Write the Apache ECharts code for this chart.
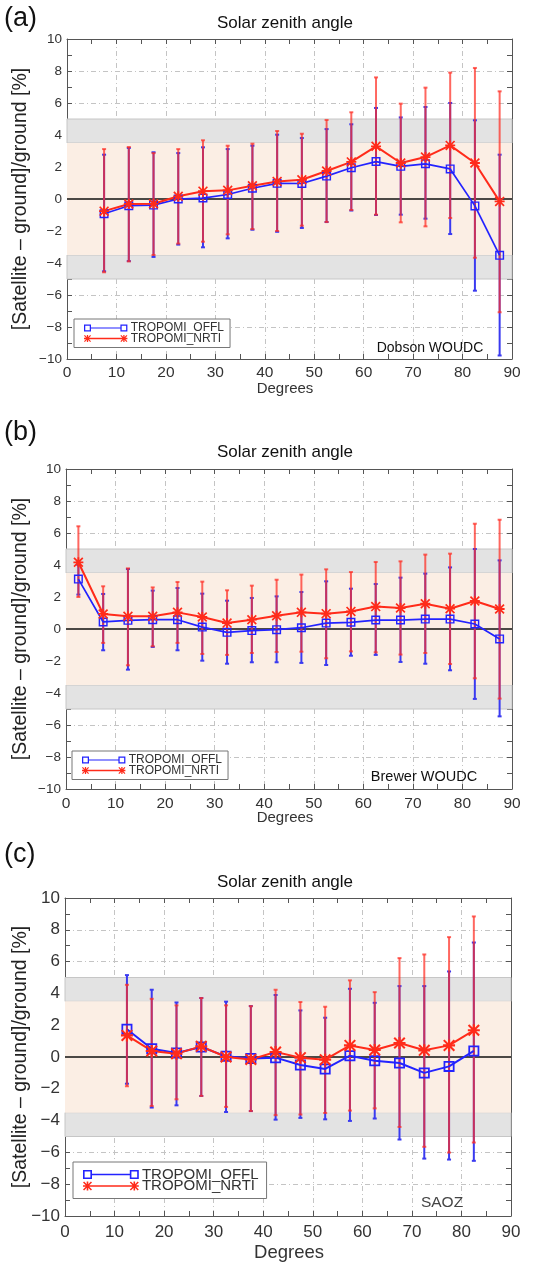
<!DOCTYPE html>
<html>
<head>
<meta charset="utf-8">
<script src="https://cdn.jsdelivr.net/npm/echarts@6/dist/echarts.min.js"></script>
<style>
  html, body { margin: 0; padding: 0; background: #fff; }
  #chart { width: 541px; height: 1263px; }
</style>
</head>
<body>
<div id="chart"></div>
<script>
// ---- data ----
// (a) Dobson WOUDC
var X_A = [7.5,12.5,17.5,22.5,27.5,32.5,37.5,42.5,47.5,52.5,57.5,62.5,67.5,72.5,77.5,82.5,87.5];
var OFFL_A    = [-0.92,-0.42,-0.38,0.0,0.06,0.28,0.67,0.98,0.97,1.43,1.95,2.34,2.04,2.2,1.88,-0.43,-3.52];
var NRTI_A    = [-0.76,-0.31,-0.3,0.17,0.49,0.54,0.83,1.1,1.2,1.75,2.32,3.29,2.25,2.62,3.35,2.25,-0.15];
var OFFL_A_LO = [-4.52,-3.88,-3.62,-2.85,-3.02,-2.46,-1.92,-2.05,-1.81,-1.44,-0.72,-1.0,-0.98,-1.23,-2.19,-5.73,-9.78];
var OFFL_A_HI = [2.77,3.19,2.92,2.87,3.23,3.12,3.33,4.02,3.81,4.37,4.67,5.69,5.1,5.75,6.0,4.92,2.77];
var NRTI_A_LO = [-4.58,-3.9,-3.5,-2.79,-2.67,-2.21,-1.88,-2.0,-1.67,-1.44,-0.69,-0.98,-1.46,-1.71,-1.19,-3.67,-7.08];
var NRTI_A_HI = [3.12,3.25,2.87,3.12,3.67,3.33,3.46,4.25,4.08,4.94,5.42,7.6,5.96,6.96,7.9,8.19,6.73];

// (b) Brewer WOUDC
var X_B = [2.5,7.5,12.5,17.5,22.5,27.5,32.5,37.5,42.5,47.5,52.5,57.5,62.5,67.5,72.5,77.5,82.5,87.5];
var OFFL_B    = [3.12,0.44,0.54,0.58,0.58,0.12,-0.21,-0.1,-0.04,0.08,0.37,0.42,0.56,0.56,0.62,0.62,0.31,-0.62];
var NRTI_B    = [4.17,0.94,0.79,0.79,1.04,0.75,0.37,0.58,0.83,1.04,0.96,1.1,1.4,1.31,1.58,1.27,1.75,1.25];
var OFFL_B_LO = [2.15,-1.33,-2.54,-1.12,-1.33,-1.98,-2.17,-2.08,-2.08,-2.12,-2.25,-1.67,-1.62,-2.06,-2.17,-2.58,-4.37,-5.46];
var OFFL_B_HI = [4.0,2.19,3.75,2.4,2.56,2.21,1.77,1.94,2.04,2.31,2.98,2.52,2.81,3.21,3.46,3.85,5.0,4.29];
var NRTI_B_LO = [2.0,-0.87,-2.27,-1.08,-0.87,-1.56,-1.62,-1.5,-1.44,-1.42,-1.83,-1.4,-1.46,-1.6,-1.5,-2.19,-3.08,-4.35];
var NRTI_B_HI = [6.42,2.67,3.79,2.6,2.94,2.96,2.42,2.71,3.08,3.4,3.73,3.56,4.19,4.23,4.65,4.71,6.58,6.83];

// (c) SAOZ
var X_C = [12.5,17.5,22.5,27.5,32.5,37.5,42.5,47.5,52.5,57.5,62.5,67.5,72.5,77.5,82.5];
var OFFL_C    = [1.74,0.52,0.25,0.63,0.04,-0.1,-0.04,-0.5,-0.75,0.08,-0.23,-0.38,-1.0,-0.59,0.38];
var NRTI_C    = [1.36,0.38,0.21,0.67,0.0,-0.15,0.31,-0.04,-0.17,0.73,0.44,0.88,0.42,0.73,1.68];
var OFFL_C_LO = [-1.68,-3.18,-3.04,-2.45,-3.46,-3.4,-3.94,-3.83,-3.92,-4.02,-3.87,-5.19,-6.39,-6.45,-6.53];
var OFFL_C_HI = [5.15,4.23,3.43,3.71,3.48,3.2,3.9,2.93,2.47,4.29,3.41,4.46,4.46,5.38,7.2];
var NRTI_C_LO = [-1.84,-3.08,-2.66,-2.45,-3.14,-3.4,-3.66,-3.62,-3.52,-3.37,-3.23,-4.4,-5.65,-6.01,-5.38];
var NRTI_C_HI = [4.54,3.66,3.25,3.71,3.25,3.2,4.23,3.46,3.16,4.82,4.08,6.22,6.45,7.54,8.84];

// reference bands / axis ranges
var BAND_OUTER = [3.5, 5];      // grey band (+/-)
var BAND_INNER = [-3.5, 3.5];   // light orange band
var X_RANGE = [0, 90];
var Y_RANGE = [-10, 10];
var NAMES = ['TROPOMI_OFFL', 'TROPOMI_NRTI'];

var FONT = '"Liberation Sans", Arial, sans-serif';
var BLUE = '#2323ff';
var RED = '#ff2b1a';

// hollow square + asterisk symbols
var SQUARE = 'path://M0,0H10V10H0ZM1.6,1.6V8.4H8.4V1.6Z';
function star(x0) {
  return 'M' + x0 + ',4.1H' + (x0 + 10) + 'V5.9H' + x0 + 'Z' +
    'M' + (x0 + 4.1) + ',0H' + (x0 + 5.9) + 'V10H' + (x0 + 4.1) + 'Z' +
    'M' + x0 + ',1.2L' + (x0 + 1.2) + ',0L' + (x0 + 10) + ',8.8L' + (x0 + 8.8) + ',10Z' +
    'M' + (x0 + 8.8) + ',0L' + (x0 + 10) + ',1.2L' + (x0 + 1.2) + ',10L' + x0 + ',8.8Z';
}
var STAR = 'path://' + star(0);
// legend icons: line with a marker at each end
var LEG_OFFL = 'path://M0,0H10V10H0ZM1.8,1.8V8.2H8.2V1.8ZM10,4.2H52V5.8H10ZM52,0H62V10H52ZM53.8,1.8V8.2H60.2V1.8Z';
var LEG_NRTI = 'path://' + star(0) + 'M10,4.1H52V5.9H10Z' + star(52);

var panels = [
  { x: X_A, offl: OFFL_A, nrti: NRTI_A, oLo: OFFL_A_LO, oHi: OFFL_A_HI, nLo: NRTI_A_LO, nHi: NRTI_A_HI,
    grid: {left: 67, top: 39, width: 445, height: 320}, fx: 15.5, fy: 13.5, mx: 6, sym: 9, lw: 1.7,
    leg: {left: 74, top: 319, fs: 12, iw: 44, ih: 7, gap: -1.5, pad: [3, 6, 3, 10]} },
  { x: X_B, offl: OFFL_B, nrti: NRTI_B, oLo: OFFL_B_LO, oHi: OFFL_B_HI, nLo: NRTI_B_LO, nHi: NRTI_B_HI,
    grid: {left: 66, top: 469, width: 446, height: 320}, fx: 15.5, fy: 13.5, mx: 7, sym: 9, lw: 1.7,
    leg: {left: 72, top: 751, fs: 12, iw: 44, ih: 7, gap: -1.5, pad: [3, 6, 3, 10]} },
  { x: X_C, offl: OFFL_C, nrti: NRTI_C, oLo: OFFL_C_LO, oHi: OFFL_C_HI, nLo: NRTI_C_LO, nHi: NRTI_C_HI,
    grid: {left: 65, top: 898, width: 446, height: 318}, fx: 17, fy: 17, mx: 8, sym: 11, lw: 2,
    leg: {left: 73, top: 1162, fs: 15, iw: 56, ih: 9, gap: -3.5, pad: [5, 8, 5, 10]} }
];

function minus(v) { return String(v).replace('-', '\u2212'); }

function errRender(color, capW, lw) {
  return function (params, api) {
    var x = api.value(0), lo = api.value(1), hi = api.value(2);
    var a = api.coord([x, lo]), b = api.coord([x, hi]);
    var st = {stroke: color, lineWidth: lw, fill: null};
    return {
      type: 'group',
      children: [
        {type: 'line', shape: {x1: a[0], y1: a[1], x2: b[0], y2: b[1]}, style: st},
        {type: 'line', shape: {x1: a[0] - capW, y1: a[1], x2: a[0] + capW, y2: a[1]}, style: st},
        {type: 'line', shape: {x1: b[0] - capW, y1: b[1], x2: b[0] + capW, y2: b[1]}, style: st}
      ]
    };
  };
}

var grids = [], xAxes = [], yAxes = [], series = [], legends = [];

panels.forEach(function (p, k) {
  grids.push(p.grid);
  var tick = {show: true, inside: true, length: 5, lineStyle: {color: '#555'}};
  var minor = {show: true, splitNumber: 2, length: 5, lineStyle: {color: '#555'}};
  var line = {show: true, onZero: false, lineStyle: {color: '#555', width: 1}};
  var split = {show: true, lineStyle: {color: '#c4c4c4', width: 1, type: [5, 3, 1, 3]}};

  xAxes.push({gridIndex: k, type: 'value', position: 'bottom', min: X_RANGE[0], max: X_RANGE[1], interval: 10,
    axisLine: line, axisTick: tick, minorTick: minor, splitLine: split,
    axisLabel: {fontSize: p.fx, color: '#333', margin: p.mx, fontFamily: FONT}});
  xAxes.push({gridIndex: k, type: 'value', position: 'top', min: X_RANGE[0], max: X_RANGE[1], interval: 10,
    axisLine: line, axisTick: tick, minorTick: minor, splitLine: {show: false}, axisLabel: {show: false}});
  yAxes.push({gridIndex: k, type: 'value', position: 'left', min: Y_RANGE[0], max: Y_RANGE[1], interval: 2,
    axisLine: line, axisTick: tick, minorTick: minor, splitLine: split,
    axisLabel: {fontSize: p.fy, color: '#333', margin: 5, fontFamily: FONT, formatter: minus}});
  yAxes.push({gridIndex: k, type: 'value', position: 'right', min: Y_RANGE[0], max: Y_RANGE[1], interval: 2,
    axisLine: line, axisTick: tick, minorTick: minor, splitLine: {show: false}, axisLabel: {show: false}});

  var xi = 2 * k, yi = 2 * k;

  // bands and zero line
  series.push({
    name: 'band' + k, type: 'line', xAxisIndex: xi, yAxisIndex: yi, data: [], z: 2, silent: true,
    markArea: {
      silent: true,
      itemStyle: {color: '#e3e3e3', borderColor: '#c6c6c6', borderWidth: 1},
      data: [
        [{yAxis: BAND_OUTER[0]}, {yAxis: BAND_OUTER[1]}],
        [{yAxis: -BAND_OUTER[1]}, {yAxis: -BAND_OUTER[0]}],
        [{yAxis: BAND_INNER[0], itemStyle: {color: '#fbeee4', borderWidth: 0}}, {yAxis: BAND_INNER[1]}]
      ]
    },
    markLine: {
      silent: true, symbol: 'none', z: 2, label: {show: false},
      lineStyle: {color: '#111', type: 'solid', width: 1.5},
      data: [{yAxis: 0}]
    }
  });

  // error bars
  series.push({
    name: NAMES[0] + '_err', type: 'custom', xAxisIndex: xi, yAxisIndex: yi, z: 3, silent: true,
    renderItem: errRender('#3a3af0', 2, 2),
    encode: {x: 0, y: [1, 2]},
    data: p.x.map(function (x, i) { return [x, p.oLo[i], p.oHi[i]]; })
  });
  series.push({
    name: NAMES[1] + '_err', type: 'custom', xAxisIndex: xi, yAxisIndex: yi, z: 3, silent: true,
    renderItem: errRender('rgba(255,45,35,0.72)', 2, 2),
    encode: {x: 0, y: [1, 2]},
    data: p.x.map(function (x, i) { return [x, p.nLo[i], p.nHi[i]]; })
  });

  // lines
  series.push({
    name: NAMES[0], type: 'line', xAxisIndex: xi, yAxisIndex: yi, z: 4,
    symbol: SQUARE, symbolSize: p.sym, showAllSymbol: true,
    itemStyle: {color: BLUE, borderWidth: 0},
    lineStyle: {color: BLUE, width: p.lw},
    data: p.x.map(function (x, i) { return [x, p.offl[i]]; })
  });
  series.push({
    name: NAMES[1], type: 'line', xAxisIndex: xi, yAxisIndex: yi, z: 4,
    symbol: STAR, symbolSize: p.sym + 1, showAllSymbol: true,
    itemStyle: {color: RED, borderWidth: 0},
    lineStyle: {color: RED, width: 2},
    data: p.x.map(function (x, i) { return [x, p.nrti[i]]; })
  });

  legends.push({
    orient: 'vertical', left: p.leg.left, top: p.leg.top,
    itemWidth: p.leg.iw, itemHeight: p.leg.ih, itemGap: p.leg.gap,
    padding: p.leg.pad, backgroundColor: '#fff', borderColor: '#777', borderWidth: 1,
    selectedMode: false,
    textStyle: {fontSize: p.leg.fs, color: '#333', fontFamily: FONT, padding: [0, 0, 0, -2]},
    data: [
      {name: NAMES[0], icon: LEG_OFFL, itemStyle: {color: BLUE, borderWidth: 0}},
      {name: NAMES[1], icon: LEG_NRTI, itemStyle: {color: RED, borderWidth: 0}}
    ]
  });
});

function txt(text, x, y, size, opts) {
  opts = opts || {};
  return {
    type: 'text', x: x, y: y, rotation: opts.rot || 0, z: 100, silent: true,
    style: {text: text, fill: opts.color || '#222', font: size + 'px ' + FONT,
      align: opts.align || 'center', verticalAlign: 'middle'}
  };
}

var YNAME = '[Satellite \u2013 ground]/ground [%]';
var graphics = [
  txt('(a)', 4, 19, 27, {align: 'left', color: '#111'}),
  txt('Solar zenith angle', 285, 23, 17, {color: '#111'}),
  txt(YNAME, 21, 199, 19.5, {rot: Math.PI / 2}),
  txt('Degrees', 285, 389, 15, {color: '#333'}),
  txt('Dobson WOUDC', 430, 348, 14, {color: '#111'}),

  txt('(b)', 4, 433, 27, {align: 'left', color: '#111'}),
  txt('Solar zenith angle', 285, 452, 17, {color: '#111'}),
  txt(YNAME, 21, 629, 19.5, {rot: Math.PI / 2}),
  txt('Degrees', 285, 818, 15, {color: '#333'}),
  txt('Brewer WOUDC', 424, 777, 14.5, {color: '#111'}),

  txt('(c)', 4, 855, 27, {align: 'left', color: '#111'}),
  txt('Solar zenith angle', 285, 882, 17, {color: '#111'}),
  txt(YNAME, 21, 1057, 19.5, {rot: Math.PI / 2}),
  txt('Degrees', 289, 1253, 18.5, {color: '#333'}),
  txt('SAOZ', 442, 1203, 15.5, {color: '#444'})
];

var myChart = echarts.init(document.getElementById('chart'), null, {renderer: 'canvas'});
myChart.setOption({
  animation: false,
  backgroundColor: '#fff',
  textStyle: {fontFamily: FONT},
  grid: grids,
  xAxis: xAxes,
  yAxis: yAxes,
  legend: legends,
  series: series,
  graphic: graphics
});
window.addEventListener('resize', function () { myChart.resize(); });
</script>
</body>
</html>
